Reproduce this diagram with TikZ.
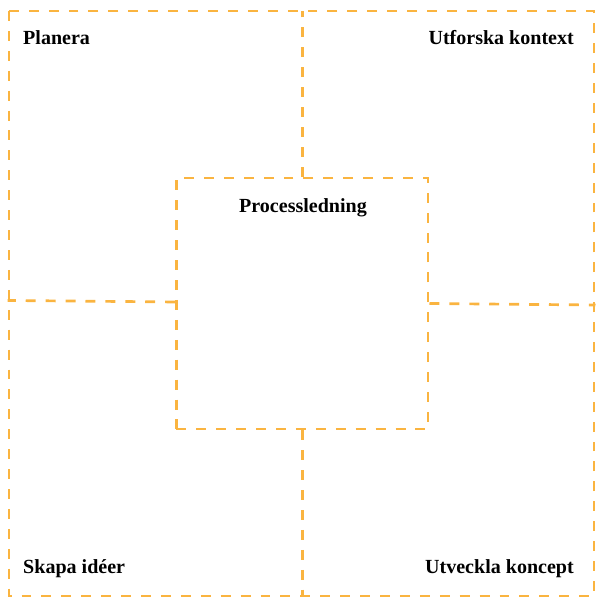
\documentclass[tikz,border=0pt]{standalone}
\usepackage{fontspec}
\setmainfont{Liberation Serif}
\usetikzlibrary{positioning}
\definecolor{phaseorange}{RGB}{250,180,64}

\begin{document}
\begin{tikzpicture}
  [x=0.03cm, y=-0.03cm,
   frame/.style={draw=phaseorange, line width=2.3pt, dash pattern=on 8.5pt off 8.5pt},
   phase/.style={font=\fontsize{17.1}{20}\selectfont\bfseries, inner sep=0pt}]

  \useasboundingbox (0,0) rectangle (598,598);

  \coordinate (outer nw) at (9,11);
  \coordinate (outer se) at (594,596);
  \draw[frame] (outer nw) rectangle (outer se);

  \node[frame, minimum width=7.55cm, minimum height=7.53cm] (process) at (302.3,303.5) {};

  \draw[frame] (process.north) -- (process.north |- outer nw);
  \draw[frame] (process.south) -- (process.south |- outer se);
  \draw[frame] ([yshift=1.3pt]process.west) -- ++(-167.5,-1.5);
  \draw[frame] (process.east) -- ++(166,1.5);

  \node[phase, anchor=base west] (plan)    at (23,45)   {Planera};
  \node[phase, anchor=base east] (explore) at (574,45)  {Utforska kontext};
  \node[phase, anchor=base west] (ideate)  at (23,573)  {Skapa idéer};
  \node[phase, anchor=base east] (develop) at (574,573) {Utveckla koncept};
  \node[phase, anchor=base]      (lead)    at (303,213) {Processledning};
\end{tikzpicture}
\end{document}
